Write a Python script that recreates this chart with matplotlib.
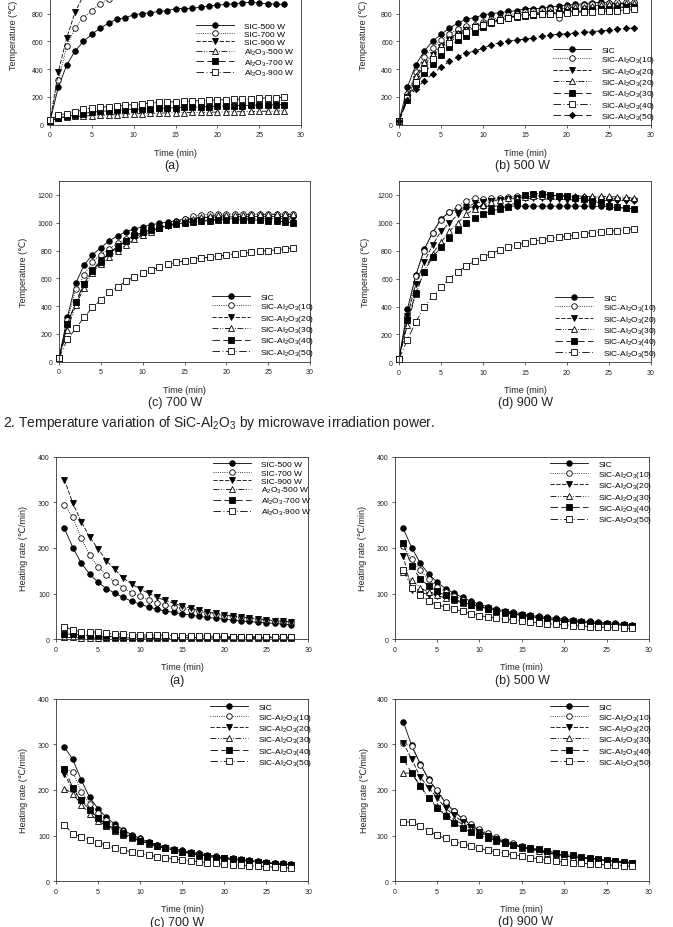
import numpy as np
import matplotlib
matplotlib.use('Agg')
import matplotlib.pyplot as plt

plt.rcParams['font.family'] = ['Liberation Sans', 'DejaVu Sans']
plt.rcParams['mathtext.default'] = 'regular'

W, H = 673, 928

time_t = np.arange(0, 29)
time_hr = np.arange(1, 29)

# temperature (b) 500 W
b_sic = [25, 270, 430, 530, 600, 650, 695, 730, 760, 770, 790, 800, 805, 815, 820, 835, 835, 838, 845, 855, 860, 865, 870, 878, 880, 875, 870, 868, 865]
b_10 = [25, 220, 380, 490, 555, 610, 650, 690, 710, 720, 740, 760, 770, 790, 800, 810, 820, 825, 835, 770, 850, 855, 860, 865, 870, 875, 880, 880, 880]
b_20a = [25, 200, 330, 430, 500, 560, 610, 650, 680, 700, 720, 740, 755, 770, 780, 790, 795, 800, 805, 810, 815, 820, 825, 830, 835, 840, 845, 848, 850]
b_20b = [25, 210, 350, 450, 510, 570, 620, 660, 690, 710, 730, 750, 760, 775, 785, 795, 805, 812, 820, 830, 840, 845, 850, 855, 860, 865, 870, 872, 875]
b_30 = [25, 180, 290, 370, 440, 505, 560, 610, 640, 670, 700, 730, 750, 765, 775, 785, 790, 795, 800, 805, 810, 815, 820, 825, 830, 835, 840, 845, 850]
b_40 = [25, 190, 310, 400, 470, 540, 590, 640, 670, 700, 720, 740, 755, 770, 780, 790, 795, 800, 800, 800, 805, 808, 810, 812, 815, 818, 820, 825, 830]
b_50 = [25, 180, 260, 315, 365, 415, 455, 490, 515, 530, 550, 575, 590, 600, 610, 615, 625, 635, 645, 650, 655, 660, 665, 670, 675, 680, 690, 693, 695]

# temperature (c) 700 W
c_sic = [25, 320, 565, 695, 770, 820, 870, 905, 935, 955, 970, 985, 995, 1005, 1015, 1025, 1030, 1035, 1040, 1040, 1042, 1042, 1045, 1045, 1045, 1045, 1045, 1045, 1045]
c_10 = [25, 300, 520, 625, 720, 770, 810, 855, 880, 900, 925, 945, 965, 985, 1005, 1030, 1045, 1055, 1060, 1062, 1062, 1062, 1062, 1062, 1062, 1062, 1062, 1062, 1062]
c_20 = [25, 270, 420, 560, 660, 730, 780, 830, 870, 900, 920, 940, 960, 975, 990, 1000, 1010, 1015, 1020, 1025, 1025, 1030, 1030, 1030, 1030, 1030, 1030, 1030, 1025]
c_30 = [25, 230, 410, 530, 640, 700, 750, 800, 840, 880, 910, 935, 960, 980, 1000, 1015, 1030, 1040, 1048, 1052, 1055, 1058, 1058, 1060, 1060, 1060, 1060, 1060, 1060]
c_40 = [25, 270, 430, 560, 650, 720, 780, 820, 870, 910, 930, 950, 965, 980, 990, 1000, 1005, 1010, 1015, 1020, 1020, 1020, 1020, 1020, 1018, 1015, 1010, 1005, 1000]
c_50 = [25, 160, 240, 320, 390, 445, 505, 535, 580, 610, 635, 660, 680, 700, 715, 725, 735, 745, 752, 760, 768, 775, 782, 788, 795, 800, 805, 812, 820]

# temperature (d) 900 W
d_sic = [25, 380, 625, 810, 930, 1030, 1075, 1100, 1110, 1115, 1118, 1120, 1120, 1120, 1120, 1120, 1120, 1120, 1120, 1120, 1120, 1120, 1120, 1120, 1118, 1115, 1110, 1105, 1100]
d_10 = [25, 330, 620, 800, 925, 1020, 1080, 1115, 1160, 1180, 1170, 1175, 1180, 1185, 1190, 1195, 1205, 1215, 1195, 1190, 1190, 1185, 1185, 1180, 1180, 1175, 1170, 1170, 1165]
d_20 = [25, 330, 560, 720, 840, 940, 1000, 1060, 1110, 1140, 1150, 1160, 1165, 1170, 1175, 1175, 1175, 1175, 1170, 1170, 1165, 1165, 1160, 1160, 1160, 1160, 1160, 1160, 1160]
d_30 = [25, 270, 490, 650, 780, 860, 940, 1000, 1060, 1100, 1130, 1150, 1165, 1175, 1180, 1185, 1190, 1195, 1195, 1195, 1195, 1195, 1190, 1190, 1190, 1190, 1185, 1185, 1180]
d_40 = [25, 300, 500, 650, 755, 825, 890, 950, 1000, 1035, 1065, 1085, 1100, 1115, 1150, 1200, 1210, 1205, 1200, 1195, 1190, 1180, 1170, 1160, 1140, 1120, 1110, 1105, 1100]
d_50 = [25, 160, 290, 395, 475, 540, 600, 650, 690, 725, 755, 780, 805, 825, 840, 855, 868, 880, 890, 898, 905, 915, 922, 930, 935, 940, 945, 950, 958]

# temperature (a) Al2O3 alone
a_al500 = [25, 50, 55, 60, 62, 65, 68, 70, 72, 75, 78, 80, 82, 83, 85, 86, 87, 88, 89, 90, 91, 92, 93, 94, 95, 96, 97, 98, 100]
a_al700 = [30, 50, 60, 70, 80, 90, 95, 100, 103, 106, 110, 113, 115, 118, 120, 122, 124, 126, 128, 130, 132, 134, 136, 138, 140, 141, 142, 143, 145]
a_al900 = [35, 70, 80, 90, 110, 120, 125, 130, 135, 140, 145, 150, 155, 160, 163, 165, 168, 170, 173, 175, 178, 180, 183, 185, 188, 190, 193, 195, 198]

# heating rate (a)
ha_sic500 = [243, 201, 167, 143, 125, 111, 101, 92, 83, 77, 71, 66, 62, 59, 56, 53, 50, 48, 46, 44, 42, 40, 39, 37, 36, 35, 33, 31]
ha_sic700 = [294, 267, 222, 184, 159, 140, 125, 113, 102, 94, 86, 80, 75, 71, 68, 64, 61, 58, 55, 52, 50, 48, 46, 44, 42, 40, 39, 37]
ha_sic900 = [350, 298, 258, 224, 198, 172, 153, 134, 121, 110, 101, 92, 85, 79, 73, 68, 64, 60, 57, 54, 51, 49, 47, 45, 43, 41, 39, 38]
ha_al500 = [4, 4, 3, 3, 3, 3, 3, 3, 3, 3, 2, 2, 2, 2, 2, 2, 2, 2, 2, 2, 2, 2, 2, 2, 2, 2, 2, 2]
ha_al700 = [12, 11, 9, 8, 7, 6, 6, 5, 5, 5, 5, 4, 4, 4, 4, 4, 4, 4, 4, 4, 4, 4, 4, 4, 4, 4, 4, 4]
ha_al900 = [28, 20, 17, 17, 15, 13, 12, 11, 10, 10, 9, 9, 9, 8, 8, 8, 7, 7, 7, 7, 6, 6, 6, 6, 6, 6, 6, 6]

# heating rate (b) 500 W
hb_sic = [243, 201, 167, 143, 125, 111, 101, 92, 83, 77, 71, 66, 62, 59, 56, 53, 50, 48, 46, 44, 42, 40, 39, 37, 36, 35, 33, 31]
hb_10 = [205, 175, 151, 131, 115, 104, 95, 87, 80, 74, 69, 64, 60, 57, 54, 51, 48, 46, 44, 42, 40, 38, 37, 35, 34, 33, 32, 30]
hb_20 = [183, 108, 103, 98, 95, 91, 87, 82, 77, 72, 68, 63, 59, 56, 53, 50, 47, 45, 43, 41, 39, 37, 36, 34, 33, 32, 31, 30]
hb_30 = [148, 130, 113, 103, 96, 91, 85, 80, 76, 71, 67, 63, 59, 56, 53, 50, 47, 45, 43, 41, 39, 37, 36, 34, 33, 32, 31, 30]
hb_40 = [210, 160, 133, 117, 105, 96, 88, 82, 76, 72, 67, 63, 59, 55, 52, 49, 46, 44, 42, 40, 38, 37, 35, 34, 33, 32, 31, 30]
hb_50 = [152, 113, 96, 84, 76, 71, 66, 61, 56, 52, 49, 46, 44, 42, 40, 38, 36, 34, 33, 32, 30, 29, 28, 27, 26, 26, 25, 24]

# heating rate (c) 700 W
hc_sic = [294, 267, 222, 184, 159, 140, 125, 113, 102, 94, 86, 80, 75, 71, 68, 64, 61, 58, 55, 52, 50, 48, 46, 44, 42, 40, 39, 37]
hc_10 = [245, 240, 196, 170, 150, 135, 120, 110, 100, 92, 85, 79, 74, 69, 65, 62, 59, 56, 53, 50, 48, 46, 44, 42, 40, 39, 37, 36]
hc_20 = [235, 200, 178, 155, 138, 125, 115, 105, 97, 89, 83, 77, 72, 68, 64, 61, 58, 55, 52, 50, 48, 46, 44, 42, 40, 38, 37, 36]
hc_30 = [203, 192, 168, 148, 133, 121, 111, 102, 95, 88, 82, 77, 72, 68, 64, 61, 58, 55, 52, 50, 48, 46, 44, 42, 40, 38, 37, 36]
hc_40 = [247, 205, 177, 157, 138, 124, 112, 104, 96, 89, 83, 78, 73, 69, 65, 62, 58, 55, 52, 50, 48, 46, 44, 42, 40, 38, 36, 35]
hc_50 = [124, 104, 97, 91, 83, 80, 72, 69, 64, 61, 57, 54, 52, 49, 47, 45, 43, 40, 39, 37, 36, 35, 34, 33, 32, 31, 30, 29]

# heating rate (d) 900 W
hd_sic = [350, 298, 258, 224, 198, 172, 153, 137, 123, 112, 102, 94, 87, 81, 76, 72, 68, 64, 60, 57, 54, 52, 50, 48, 46, 44, 42, 41]
hd_10 = [302, 296, 255, 222, 200, 174, 155, 139, 126, 115, 105, 97, 89, 83, 77, 72, 68, 64, 60, 57, 54, 52, 50, 48, 46, 44, 42, 40]
hd_20 = [303, 268, 229, 205, 183, 160, 145, 130, 120, 109, 100, 92, 85, 80, 75, 70, 66, 62, 59, 56, 53, 51, 49, 47, 45, 43, 41, 40]
hd_30 = [237, 237, 210, 183, 165, 148, 135, 125, 115, 106, 98, 91, 84, 79, 74, 70, 66, 62, 59, 56, 53, 51, 49, 47, 45, 43, 41, 40]
hd_40 = [269, 237, 209, 182, 161, 144, 128, 117, 108, 101, 94, 89, 84, 80, 76, 73, 70, 66, 63, 60, 57, 54, 51, 49, 47, 44, 42, 40]
hd_50 = [130, 130, 121, 111, 101, 94, 87, 82, 77, 72, 68, 64, 61, 58, 55, 52, 49, 47, 44, 43, 41, 40, 38, 37, 36, 35, 34, 33]

AL = 'Al$_2$O$_3$'
lab_power = ['SIC-500 W', 'SIC-700 W', 'SIC-900 W', AL + '-500 W', AL + '-700 W', AL + '-900 W']
lab_power_hr = ['SIC-500 W', 'SIC-700 W', 'SIC-900 W', 'A$_2$O$_3$-500 W', AL + '-700 W', AL + '-900 W']
lab_mix = ['SIC'] + ['SIC-' + AL + '(%d)' % n for n in (10, 20, 30, 40, 50)]
lab_mix_b = ['SIC'] + ['SIC-' + AL + '(%d)' % n for n in (10, 20, 20, 30, 40, 50)]

# marker / dash styles used in the paper (all black)
S_SOLID = dict(marker='o', mfc='black', ls='-')
S_OC = dict(marker='o', mfc='white', ls=':')
S_TD = dict(marker='v', mfc='black', ls=(0, (5, 2)))
S_TU = dict(marker='^', mfc='white', ls=(0, (7, 2, 1, 2, 1, 2)))
S_SQ = dict(marker='s', mfc='black', ls=(0, (9, 4)))
S_OS = dict(marker='s', mfc='white', ls=(0, (9, 3, 1, 3)))
S_DI = dict(marker='D', mfc='black', ls=(0, (9, 4)), ms=3.2)
six = [S_SOLID, S_OC, S_TD, S_TU, S_SQ, S_OS]

fig = plt.figure(figsize=(W / 100, H / 100), dpi=100)


def panel(left, top, right, bottom, ymax, ystep, ylabel, ylab_x, ylab_y=None):
    ax = fig.add_axes([left / W, 1 - bottom / H, (right - left) / W, (bottom - top) / H])
    ax.set_xlim(0, 30)
    ax.set_ylim(0, ymax)
    ax.set_xticks(np.arange(0, 31, 5))
    ax.set_yticks(np.arange(0, ymax + 1, ystep))
    ax.tick_params(direction='out', length=2.5, width=0.5, labelsize=5, pad=2, colors='#222222')
    for s in ax.spines.values():
        s.set_linewidth(0.6)
        s.set_color('#333333')
    ax.set_xlabel('Time (min)', fontsize=6.5, labelpad=7, color='#222222')
    ax.set_ylabel(ylabel, fontsize=6.5, color='#222222')
    # label centre given in page pixels
    if ylab_y is None:
        ylab_y = (top + bottom) / 2
    ax.yaxis.set_label_coords((ylab_x + 3.5 - left) / (right - left),
                              (bottom - ylab_y) / (bottom - top))
    return ax


def draw(ax, x, series, styles, labels):
    for y, st, lab in zip(series, styles, labels):
        st = dict(st)
        ms = st.pop('ms', 4)
        ax.plot(x, y, color='black', lw=0.6, mec='black', mew=0.6, ms=ms, label=lab, clip_on=False, **st)


def legend(ax, x, y):
    ax.legend(loc='upper left', bbox_to_anchor=(x / W, 1 - (y - 4) / H),
              bbox_transform=fig.transFigure, frameon=False, fontsize=6,
              handlelength=4.6, handletextpad=1.2, labelspacing=0.05,
              borderpad=0, borderaxespad=0, numpoints=1)


def caption(x, y, txt):
    fig.text(x / W, 1 - y / H, txt, fontsize=9, ha='center', va='center',
             family=['Liberation Sans Narrow', 'Liberation Sans'], color='#222222')


TLAB = 'Temperature (℃)'
HLAB = 'Heating rate (℃/min)'

# temperature panels (top row is cut by the page edge, only ticks up to 800 show)
ax = panel(50, -55, 301, 125.7, 1300, 200, TLAB, 15, 35)
ax.set_yticks(np.arange(0, 801, 200))
draw(ax, time_t, [b_sic, c_sic, d_sic, a_al500, a_al700, a_al900],
     [S_SOLID, S_OC, S_TD, S_TU, S_SQ, S_OS], lab_power)
legend(ax, 196, 27)
caption(172, 166, '(a)')

ax = panel(399, -55, 651, 125.7, 1300, 200, TLAB, 365, 35)
ax.set_yticks(np.arange(0, 801, 200))
draw(ax, time_t, [b_sic, b_10, b_20a, b_20b, b_30, b_40, b_50],
     six + [S_DI], lab_mix_b)
legend(ax, 553, 51)
caption(522, 166, '(b) 500 W')

ax = panel(59, 182, 310, 362.7, 1300, 200, TLAB, 25)
ax.set_yticks(np.arange(0, 1201, 200))
draw(ax, time_t, [c_sic, c_10, c_20, c_30, c_40, c_50], six, lab_mix)
legend(ax, 212, 298)
caption(175, 403, '(c) 700 W')

ax = panel(399, 182, 651, 363.3, 1300, 200, TLAB, 366)
ax.set_yticks(np.arange(0, 1201, 200))
draw(ax, time_t, [d_sic, d_10, d_20, d_30, d_40, d_50], six, lab_mix)
legend(ax, 555, 299)
caption(525, 403, '(d) 900 W')

fig.text(3 / W, 1 - 422.7 / H,
         '2. Temperature variation of SiC-Al$_2$O$_3$ by microwave irradiation power.',
         fontsize=10, ha='left', va='center', color='#222222',
         family=['Liberation Sans Narrow', 'Liberation Sans'])

# heating rate panels
ax = panel(56, 457.7, 308.3, 640.3, 400, 100, HLAB, 24)
draw(ax, time_hr, [ha_sic500, ha_sic700, ha_sic900, ha_al500, ha_al700, ha_al900],
     [S_SOLID, S_OC, S_TD, S_TU, S_SQ, S_OS], lab_power_hr)
legend(ax, 213, 465.5)
caption(177, 680.7, '(a)')

ax = panel(394.7, 457.7, 649, 640.3, 400, 100, HLAB, 363)
draw(ax, time_hr, [hb_sic, hb_10, hb_20, hb_30, hb_40, hb_50], six, lab_mix)
legend(ax, 550, 465.5)
caption(522, 680.7, '(b) 500 W')

ax = panel(56, 699.7, 308.3, 882.3, 400, 100, HLAB, 24)
draw(ax, time_hr, [hc_sic, hc_10, hc_20, hc_30, hc_40, hc_50], six, lab_mix)
legend(ax, 210, 708.3)
caption(177, 922.7, '(c) 700 W')

ax = panel(394.7, 699.7, 649, 882.3, 400, 100, HLAB, 365)
draw(ax, time_hr, [hd_sic, hd_10, hd_20, hd_30, hd_40, hd_50], six, lab_mix)
legend(ax, 550, 708.3)
caption(525, 922, '(d) 900 W')

fig.savefig('out.png', dpi=100)
